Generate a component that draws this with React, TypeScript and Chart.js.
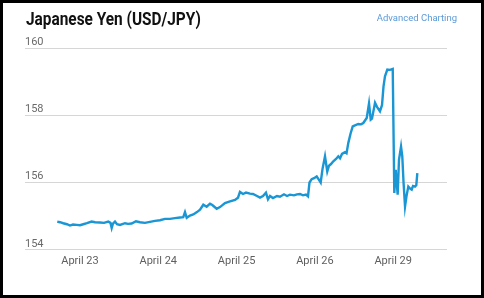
import React, { useEffect, useRef } from "react";
import { Chart, registerables } from "chart.js";

Chart.register(...registerables);

// x positions in trading-day units (0 = April 23, 1 = April 24, ... 4 = April 29)
const times: number[] = [
  -0.29, -0.255, -0.213, -0.166, -0.128, -0.089, -0.042, 0, 0.042, 0.089,
  0.149, 0.192, 0.255, 0.307, 0.361, 0.39, 0.405, 0.421, 0.447, 0.473,
  0.511, 0.575, 0.613, 0.66, 0.715, 0.766, 0.83, 0.894, 0.958, 1.022,
  1.086, 1.149, 1.213, 1.277, 1.319, 1.341, 1.363, 1.405, 1.447, 1.494,
  1.533, 1.575, 1.618, 1.66, 1.69, 1.746, 1.788, 1.852, 1.916, 1.98,
  2.018, 2.043, 2.082, 2.12, 2.171, 2.209, 2.261, 2.299, 2.337, 2.375,
  2.401, 2.427, 2.465, 2.516, 2.554, 2.605, 2.644, 2.682, 2.733, 2.771,
  2.81, 2.848, 2.886, 2.912, 2.931, 2.959, 2.989, 3.023, 3.046, 3.074,
  3.097, 3.129, 3.158, 3.18, 3.206, 3.235, 3.27, 3.299, 3.321, 3.346,
  3.384, 3.404, 3.427, 3.455, 3.483, 3.512, 3.554, 3.589, 3.618, 3.662,
  3.691, 3.713, 3.729, 3.768, 3.793, 3.831, 3.857, 3.876, 3.895, 3.925,
  3.959, 3.994, 4.014, 4.032, 4.057, 4.074, 4.1, 4.116, 4.132, 4.151,
  4.17, 4.193, 4.215, 4.236, 4.253, 4.278, 4.295, 4.308,
];

const rates: number[] = [
  154.84, 154.82, 154.79, 154.76, 154.72, 154.75, 154.74, 154.73, 154.76, 154.79,
  154.84, 154.82, 154.81, 154.8, 154.84, 154.8, 154.65, 154.78, 154.84, 154.76,
  154.74, 154.79, 154.77, 154.78, 154.85, 154.82, 154.8, 154.83, 154.86, 154.88,
  154.92, 154.92, 154.94, 154.96, 154.97, 155.12, 154.95, 155.02, 155.05, 155.12,
  155.19, 155.34, 155.28, 155.37, 155.33, 155.22, 155.27, 155.39, 155.44, 155.48,
  155.55, 155.72, 155.66, 155.7, 155.67, 155.66, 155.6, 155.55, 155.6, 155.7,
  155.5, 155.6, 155.54, 155.6, 155.58, 155.65, 155.6, 155.64, 155.62, 155.65,
  155.66, 155.62, 155.64, 155.59, 156.0, 156.1, 156.13, 156.18, 156.1, 156.0,
  156.4, 156.78, 156.33, 156.5, 156.55, 156.63, 156.7, 156.78, 156.72, 156.85,
  156.9, 156.87, 157.18, 157.45, 157.67, 157.7, 157.74, 157.73, 157.77, 157.92,
  158.35, 157.87, 157.9, 158.37, 158.25, 158.12, 158.3, 158.85, 159.16, 159.36,
  159.35, 159.38, 155.69, 156.38, 155.64, 156.68, 157.07, 156.78, 156.0, 155.29,
  155.6, 155.88, 155.82, 155.79, 155.9, 155.88, 155.92, 156.28,
];

const dayLabels: string[] = ["April 23", "April 24", "April 25", "April 26", "April 29"];
const yTicks: number[] = [154, 156, 158, 160];

const LINE_COLOR = "#1a96d4";

export default function App() {
  const canvasRef = useRef<HTMLCanvasElement | null>(null);

  useEffect(() => {
    document.body.style.margin = "0";
    const canvas = canvasRef.current;
    if (!canvas) return;
    const chart = new Chart(canvas, {
      type: "line",
      data: {
        datasets: [
          {
            data: times.map((t, i) => ({ x: t, y: rates[i] })),
            borderColor: LINE_COLOR,
            borderWidth: 2.4,
            pointRadius: 0,
            tension: 0,
            fill: false,
          },
        ],
      },
      options: {
        responsive: false,
        animation: false,
        devicePixelRatio: 1,
        layout: { padding: { left: 25, right: 37, top: 48, bottom: 25 } },
        plugins: { legend: { display: false }, tooltip: { enabled: false }, title: { display: false } },
        scales: {
          x: {
            type: "linear",
            min: -0.702,
            max: 4.687,
            grid: { display: false, drawTicks: false },
            border: { display: false },
            ticks: {
              stepSize: 1,
              includeBounds: false,
              autoSkip: false,
              maxRotation: 0,
              padding: 5,
              color: "#5f5f5f",
              font: { family: "Roboto, 'Liberation Sans', sans-serif", size: 11 },
              callback: (v: any) => {
                const n = Number(v);
                return Number.isInteger(n) && dayLabels[n] ? dayLabels[n] : "";
              },
            },
          },
          y: {
            type: "linear",
            min: yTicks[0],
            max: yTicks[yTicks.length - 1],
            grid: { color: "#d6d6d6", lineWidth: 1, drawTicks: false },
            border: { display: false },
            afterBuildTicks: (scale: any) => {
              scale.ticks = yTicks.map((v) => ({ value: v }));
            },
            ticks: {
              mirror: true,
              padding: 0,
              labelOffset: -6,
              color: "#6a6a6a",
              font: { family: "Roboto, 'Liberation Sans', sans-serif", size: 11 },
            },
          },
        },
      },
    });
    return () => chart.destroy();
  }, []);

  return (
    <div style={{ position: "relative", width: 484, height: 298, background: "#fff", overflow: "hidden" }}>
      <canvas ref={canvasRef} width={484} height={298} style={{ position: "absolute", left: 0, top: 0 }} />
      <div
        style={{
          position: "absolute",
          left: 26,
          top: 10,
          fontFamily: "Roboto, 'Liberation Sans', sans-serif",
          fontWeight: 700,
          fontSize: 18,
          lineHeight: "18px",
          color: "#111",
          whiteSpace: "nowrap",
          transform: "scaleX(0.855)",
          transformOrigin: "left center",
        }}
      >
        Japanese Yen (USD/JPY)
      </div>
      <div
        style={{
          position: "absolute",
          right: 27,
          top: 12,
          fontFamily: "Roboto, 'Liberation Sans', sans-serif",
          fontSize: 9.5,
          lineHeight: "11px",
          color: "#5b9ad8",
          whiteSpace: "nowrap",
        }}
      >
        Advanced Charting
      </div>
      <div
        style={{
          position: "absolute",
          left: 0,
          top: 0,
          width: 484,
          height: 298,
          boxSizing: "border-box",
          border: "3px solid #000",
          pointerEvents: "none",
        }}
      />
    </div>
  );
}
